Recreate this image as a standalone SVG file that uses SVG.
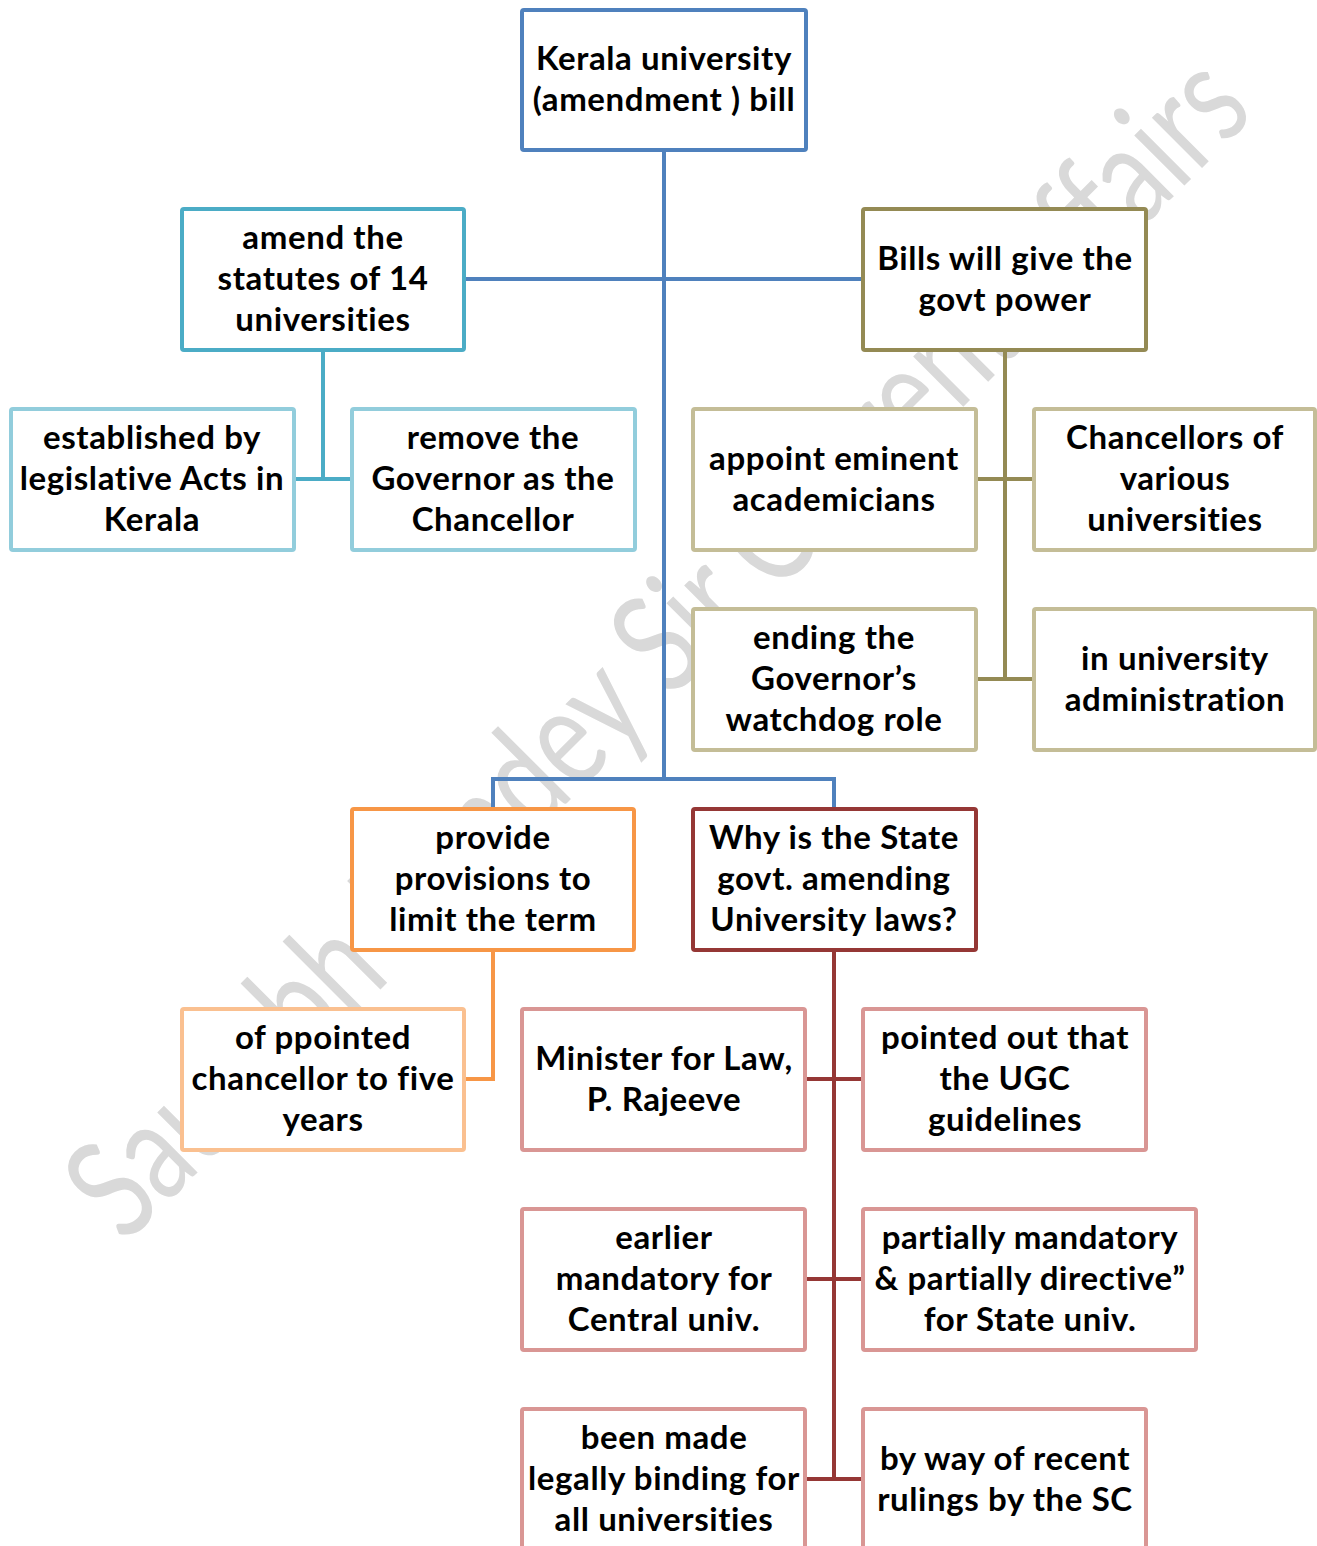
<svg xmlns="http://www.w3.org/2000/svg" width="1317" height="1546" viewBox="0 0 1317 1546">
<style>
.bx{fill:#fff;stroke-width:4}
.t{font-family:"Lato","Liberation Sans",sans-serif;font-weight:bold;font-size:33px;letter-spacing:0.6px;fill:#000;text-anchor:middle}
.ln{fill:none;stroke-width:4}
.blue{stroke:#4F81BD}.teal{stroke:#4BACC6}.lteal{stroke:#92CDDC}.olive{stroke:#948A54}.tan{stroke:#C4BD97}
.orange{stroke:#F79646}.lorange{stroke:#FAC090}.dred{stroke:#953735}.pink{stroke:#D99694}
.wm{font-family:"Lato","Liberation Sans",sans-serif;font-size:140px;fill:#D9D9D9}
</style>
<rect width="1317" height="1546" fill="#fff"/>
<text class="wm" x="125" y="1245" transform="rotate(-45 125 1245)" textLength="1600" lengthAdjust="spacingAndGlyphs">Saurabh Pandey Sir Current Affairs</text>
<g id="connectors">
<path class="ln blue" d="M664 150V779M465 279H862M493 808V779H834V808"/>
<path class="ln teal" d="M323 350V479M294 479H352"/>
<path class="ln olive" d="M1005 350V679M976 479H1034M976 679H1034"/>
<path class="ln orange" d="M493 950V1079H464"/>
<path class="ln dred" d="M834 950V1479M806 1079H863M806 1279H863M806 1479H863"/>
</g>
<g id="root"><rect class="bx blue" x="522" y="10" width="284" height="140" rx="2"/>
<text class="t" x="664" y="70">Kerala university</text><text class="t" x="664" y="111">(amendment ) bill</text></g>
<g id="amend"><rect class="bx teal" x="182" y="209" width="282" height="141" rx="2"/>
<text class="t" x="323" y="249">amend the</text><text class="t" x="323" y="290">statutes of 14</text><text class="t" x="323" y="331">universities</text></g>
<g id="bills"><rect class="bx olive" x="863" y="209" width="283" height="141" rx="2"/>
<text class="t" x="1005" y="270">Bills will give the</text><text class="t" x="1005" y="311">govt power</text></g>
<g id="established"><rect class="bx lteal" x="11" y="409" width="283" height="141" rx="2"/>
<text class="t" x="152" y="449">established by</text><text class="t" x="152" y="490">legislative Acts in</text><text class="t" x="152" y="531">Kerala</text></g>
<g id="remove"><rect class="bx lteal" x="352" y="409" width="283" height="141" rx="2"/>
<text class="t" x="493" y="449">remove the</text><text class="t" x="493" y="490">Governor as the</text><text class="t" x="493" y="531">Chancellor</text></g>
<g id="appoint"><rect class="bx tan" x="693" y="409" width="283" height="141" rx="2"/>
<text class="t" x="834" y="470">appoint eminent</text><text class="t" x="834" y="511">academicians</text></g>
<g id="chancellors"><rect class="bx tan" x="1034" y="409" width="281" height="141" rx="2"/>
<text class="t" x="1175" y="449">Chancellors of</text><text class="t" x="1175" y="490">various</text><text class="t" x="1175" y="531">universities</text></g>
<g id="ending"><rect class="bx tan" x="693" y="609" width="283" height="141" rx="2"/>
<text class="t" x="834" y="649">ending the</text><text class="t" x="834" y="690">Governor’s</text><text class="t" x="834" y="731">watchdog role</text></g>
<g id="inuniv"><rect class="bx tan" x="1034" y="609" width="281" height="141" rx="2"/>
<text class="t" x="1175" y="670">in university</text><text class="t" x="1175" y="711">administration</text></g>
<g id="provide"><rect class="bx orange" x="352" y="809" width="282" height="141" rx="2"/>
<text class="t" x="493" y="849">provide</text><text class="t" x="493" y="890">provisions to</text><text class="t" x="493" y="931">limit the term</text></g>
<g id="why"><rect class="bx dred" x="693" y="809" width="283" height="141" rx="2"/>
<text class="t" x="834" y="849">Why is the State</text><text class="t" x="834" y="890">govt. amending</text><text class="t" x="834" y="931">University laws?</text></g>
<g id="ppointed"><rect class="bx lorange" x="182" y="1009" width="282" height="141" rx="2"/>
<text class="t" x="323" y="1049">of ppointed</text><text class="t" x="323" y="1090">chancellor to five</text><text class="t" x="323" y="1131">years</text></g>
<g id="minister"><rect class="bx pink" x="522" y="1009" width="283" height="141" rx="2"/>
<text class="t" x="664" y="1070">Minister for Law,</text><text class="t" x="664" y="1111">P. Rajeeve</text></g>
<g id="pointed"><rect class="bx pink" x="863" y="1009" width="283" height="141" rx="2"/>
<text class="t" x="1005" y="1049">pointed out that</text><text class="t" x="1005" y="1090">the UGC</text><text class="t" x="1005" y="1131">guidelines</text></g>
<g id="earlier"><rect class="bx pink" x="522" y="1209" width="283" height="141" rx="2"/>
<text class="t" x="664" y="1249">earlier</text><text class="t" x="664" y="1290">mandatory for</text><text class="t" x="664" y="1331">Central univ.</text></g>
<g id="partially"><rect class="bx pink" x="863" y="1209" width="333" height="141" rx="2"/>
<text class="t" x="1030" y="1249">partially mandatory</text><text class="t" x="1030" y="1290">&amp; partially directive”</text><text class="t" x="1030" y="1331">for State univ.</text></g>
<g id="been"><rect class="bx pink" x="522" y="1409" width="283" height="141" rx="2"/>
<text class="t" x="664" y="1449">been made</text><text class="t" x="664" y="1490">legally binding for</text><text class="t" x="664" y="1531">all universities</text></g>
<g id="byway"><rect class="bx pink" x="863" y="1409" width="283" height="141" rx="2"/>
<text class="t" x="1005" y="1470">by way of recent</text><text class="t" x="1005" y="1511">rulings by the SC</text></g>
</svg>
